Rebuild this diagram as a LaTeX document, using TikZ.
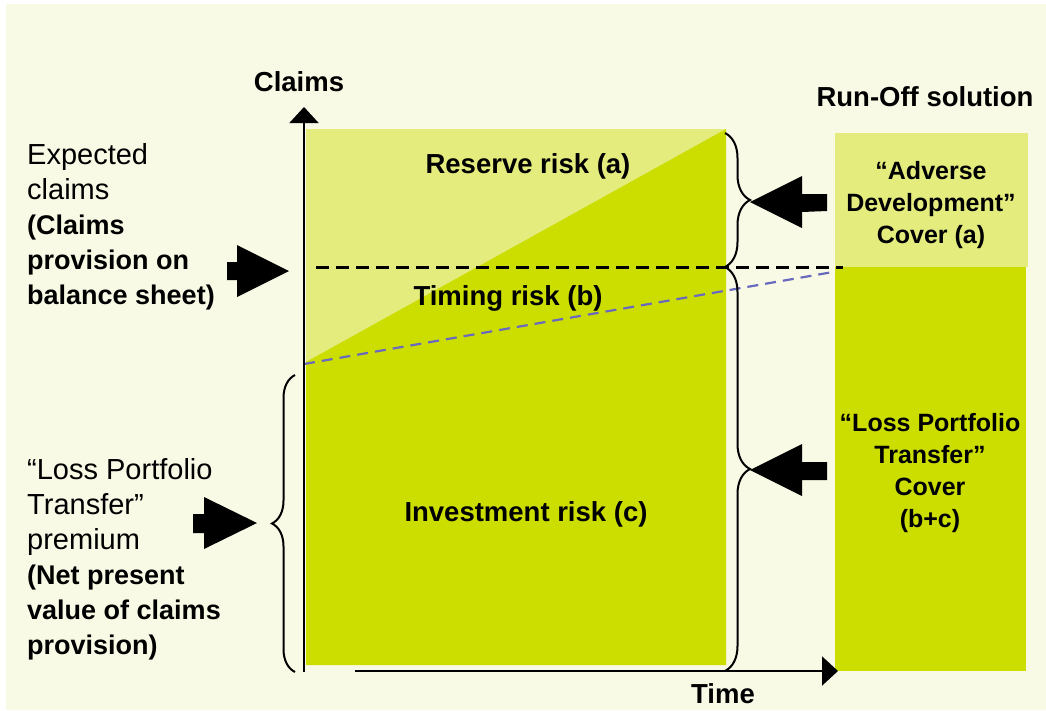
\documentclass[tikz,border=0pt]{standalone}
\usepackage{fontspec}
\setmainfont{Liberation Sans}
\usetikzlibrary{arrows.meta,decorations.pathreplacing}
\definecolor{bgc}{RGB}{248,250,230}
\definecolor{lightg}{RGB}{228,236,126}
\definecolor{darkg}{RGB}{204,221,0}
\definecolor{dashblue}{RGB}{105,105,190}
\newcommand{\bl}{\fontsize{27}{35}\selectfont\bfseries}
\begin{document}
\begin{tikzpicture}[x=1pt,y=-1pt,
  lbl/.style={font=\fontsize{27.5}{35}\selectfont\bfseries, inner sep=0pt},
  side/.style={font=\fontsize{29}{35}\selectfont, align=left, inner sep=0pt, anchor=north west},
  boxtxt/.style={font=\fontsize{25}{32}\selectfont\bfseries, align=center, inner sep=0pt},
  blockarrow/.style={fill=black},
  axisline/.style={line width=2pt, -{Triangle[width=29pt,length=16pt]}},
  bracestyle/.style={line width=2pt, decorate, decoration={brace, amplitude=#1}},
  ]
\useasboundingbox (0,0) rectangle (1046,710);
\fill[white] (0,0) rectangle (1046,710);
\fill[bgc] (6,4) rectangle (1046,710);

% main area
\fill[lightg] (306,129) rectangle (726,665);
\fill[darkg] (306,362) -- (726,129) -- (726,665) -- (306,665) -- cycle;

% right boxes
\node[fill=lightg, minimum width=193pt, minimum height=134pt, anchor=north west, inner sep=0pt] (adcbox) at (835,133) {};
\node[fill=darkg, minimum width=191pt, minimum height=404pt, anchor=north west, inner sep=0pt] (lptbox) at (835,267) {};

% dashed lines
\coordinate (dl1) at (316,267);
\coordinate (dl2) at (843,267);
\coordinate (bl1) at (304,364);
\coordinate (bl2) at (833,272);
\draw[line width=3pt, dash pattern=on 13pt off 7pt] (dl1) -- (dl2);
\draw[dashblue, line width=2.2pt, dash pattern=on 11pt off 7pt] (bl1) -- (bl2);

% axes
\coordinate (origin) at (304,672);
\coordinate (ytop) at (304,107);
\coordinate (xstart) at (355,671);
\coordinate (xend) at (838,671);
\draw[axisline] (origin) -- (ytop);
\draw[axisline] (xstart) -- (xend);

% braces
\coordinate (lb1) at (295,672);
\coordinate (lb2) at (295,375);
\coordinate (rb1) at (725,133);
\coordinate (rb2) at (725,267);
\coordinate (rb3) at (725,671);
\draw[bracestyle=23pt] (lb1) -- (lb2);
\draw[bracestyle=25pt] (rb1) -- (rb2);
\draw[bracestyle=25pt] (rb2) -- (rb3);

% block arrows
\fill[blockarrow] (227,262) -- (237,262) -- (237,245) -- (289,271) -- (237,297) -- (237,280) -- (227,280) -- cycle;
\fill[blockarrow] (193,514) -- (204,514) -- (204,497) -- (257,523) -- (204,549) -- (204,533) -- (193,533) -- cycle;
\fill[blockarrow] (827,194) -- (802,194) -- (802,176) -- (750,202) -- (802,228) -- (802,212) -- (827,211) -- cycle;
\fill[blockarrow] (827,462) -- (802,462) -- (802,444) -- (750,470) -- (802,496) -- (802,480) -- (827,480) -- cycle;

% labels
\node[lbl] (claims) at (299,82) {Claims};
\node[lbl] (runoff) at (925,97) {Run-Off solution};
\node[lbl] (reserve) at (528,166) {Reserve risk (a)};
\node[lbl] (timing) at (508,298) {Timing risk (b)};
\node[lbl] (invest) at (526,514) {Investment risk (c)};
\node[lbl] (time) at (723,694) {Time};
\node[boxtxt] (adctext) at (931,205) {“Adverse\\Development”\\Cover (a)};
\node[boxtxt] (lpttext) at (930,473) {“Loss Portfolio\\Transfer”\\Cover\\(b+c)};

\node[side] (expected) at (27,143) {Expected\\claims\\\bl(Claims\\\bl provision on\\\bl balance sheet)};
\node[side] (premium) at (27,458) {“Loss Portfolio\\Transfer”\\premium\\\bl(Net present\\\bl value of claims\\\bl provision)};
\end{tikzpicture}
\end{document}
